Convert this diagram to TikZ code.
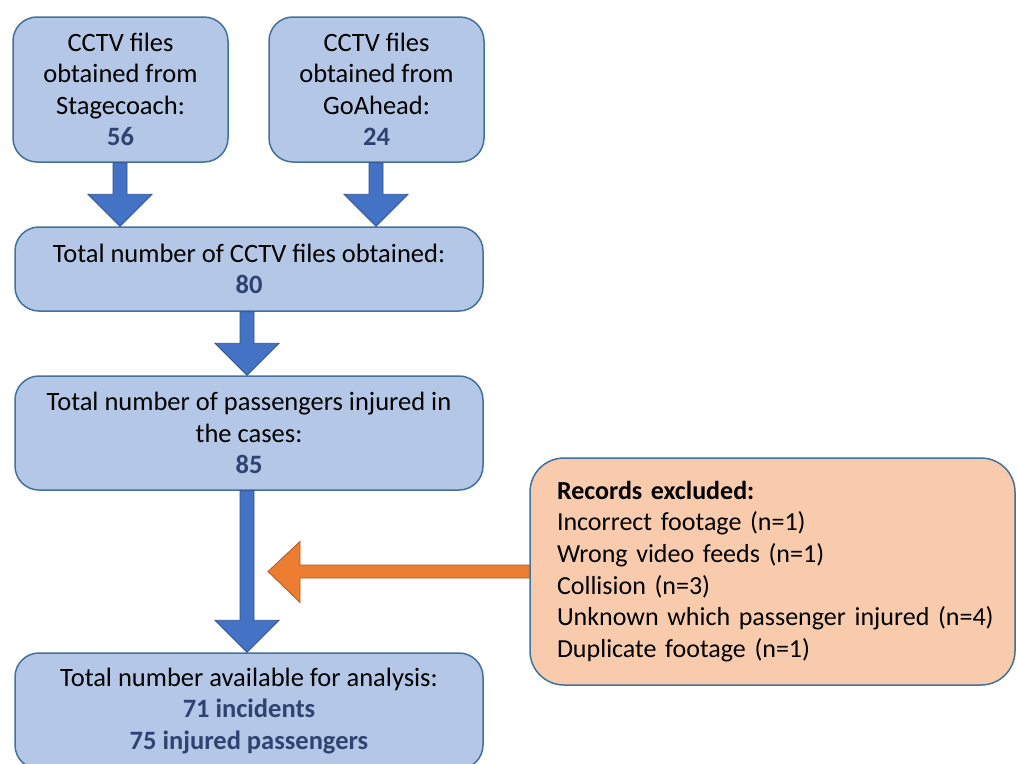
\documentclass[tikz,border=0pt]{standalone}
\usepackage{fontspec}
\setmainfont{Carlito}
\usetikzlibrary{calc}
\definecolor{boxfill}{HTML}{B4C7E7}
\definecolor{boxline}{HTML}{41719C}
\definecolor{arrfill}{HTML}{4472C4}
\definecolor{arrline}{HTML}{2F528F}
\definecolor{numcol}{HTML}{2F4372}
\definecolor{orfill}{HTML}{F8CBAD}
\definecolor{orarr}{HTML}{ED7D31}
\definecolor{orline}{HTML}{AE5A21}
\newcommand\num[1]{\textbf{\color{numcol}#1}}
\newcommand\bdown[3][0]{%
 \draw[bluearrow] ($(#2.south)+(#1-7,0)$) -- ($(#3.north -| #2.south)+(#1-7,-32)$) -- ($(#3.north -| #2.south)+(#1-32,-32)$) -- ($(#3.north -| #2.south)+(#1,0)$) -- ($(#3.north -| #2.south)+(#1+32,-32)$) -- ($(#3.north -| #2.south)+(#1+7,-32)$) -- ($(#2.south)+(#1+7,0)$) -- cycle;}
\begin{document}
\begin{tikzpicture}[x=1pt,y=-1pt,
  bluebox/.style={draw=boxline, line width=1.5pt, fill=boxfill, rounded corners=24pt,
    align=center, font=\fontsize{26.5}{31.5}\selectfont, inner sep=0pt},
  orbox/.style={draw=boxline, line width=1.5pt, fill=orfill, rounded corners=34pt,
    align=left, font=\fontsize{26}{31.6}\selectfont, inner sep=0pt},
  bluearrow/.style={fill=arrfill, draw=arrline, line width=0.8pt},
  orangearrow/.style={fill=orarr, draw=orline, line width=0.8pt}]
\path[use as bounding box, clip] (0,0) rectangle (1017,763);
\node[bluebox, minimum width=215pt, minimum height=145pt] (b1) at (120.5,89.5)
  {CCTV files\\obtained from\\Stagecoach:\\\num{56}};
\node[bluebox, minimum width=215pt, minimum height=145pt] (b2) at (376.5,89.5)
  {CCTV files\\obtained from\\GoAhead:\\\num{24}};
\node[bluebox, minimum width=468pt, minimum height=84pt] (b3) at (249,269)
  {Total number of CCTV files obtained:\\\num{80}};
\node[bluebox, minimum width=468pt, minimum height=114pt] (b4) at (249,433)
  {Total number of passengers injured in\\the cases:\\\num{85}};
\node[bluebox, minimum width=468pt, minimum height=116pt] (b5) at (249,711)
  {Total number available for analysis:\\\num{71 incidents}\\\num{75 injured passengers}};
\node[orbox, minimum width=485pt, minimum height=227pt, text width=431pt] (ex) at (772.5,571.5)
  {\textbf{Records excluded:}\\Incorrect footage (n=1)\\Wrong video feeds (n=1)\\Collision (n=3)\\\mbox{Unknown which passenger injured (n=4)}\\Duplicate footage (n=1)};
\bdown[-0.5]{b1}{b3}
\bdown[-0.5]{b2}{b3}
\bdown[-2]{b3}{b4}
\bdown[-2]{b4}{b5}
\coordinate (tip) at (268,571.5);
\draw[orangearrow] ($(ex.west)+(0,-6.5)$) -- ($(tip)+(32,-6.5)$) -- ($(tip)+(32,-30)$) -- (tip)
  -- ($(tip)+(32,31)$) -- ($(tip)+(32,6.5)$) -- ($(ex.west)+(0,6.5)$) -- cycle;
\end{tikzpicture}
\end{document}
